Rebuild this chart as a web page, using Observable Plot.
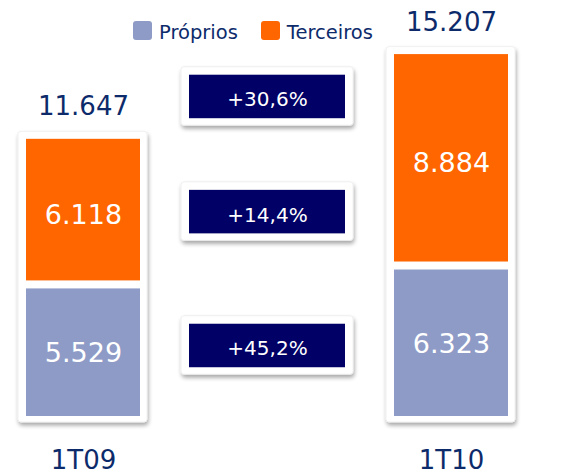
<!DOCTYPE html>
<html><head><meta charset="utf-8">
<script src="https://cdn.jsdelivr.net/npm/d3@7"></script>
<script src="https://cdn.jsdelivr.net/npm/@observablehq/plot@0.6"></script>
<style>
body{margin:0;background:#fff;font-family:"DejaVu Sans",sans-serif;}
#wrap{position:relative;width:562px;height:476px;}
#legend{position:absolute;left:133px;top:21px;display:flex;align-items:flex-start;font-size:19.5px;color:#0D2B6B;z-index:2;}
#legend .sw{width:19px;height:19px;border-radius:3px;display:inline-block;margin-right:7px;}
#legend .lab{line-height:normal;}
</style></head><body>
<div id="wrap"><div id="legend"></div></div>
<script>
const quarters = ["1T09", "1T10"];
const series = ["Próprios", "Terceiros"];
const proprios = [5529, 6323];
const terceiros = [6118, 8884];
const growthLabels = ["+30,6%", "+14,4%", "+45,2%"];
const colors = ["#8E9BC6", "#FF6600"];
const navy = "#0D2B6B";
const boxNavy = "#000066";

const fmt = d3.formatLocale({decimal: ",", thousands: ".", grouping: [3], currency: ["", ""]}).format(",d");

const totals = quarters.map((q, i) => proprios[i] + terceiros[i]);
const qRows = quarters.map((q, i) => ({quarter: q, total: totals[i]}));
const pRows = quarters.map((q, i) => ({quarter: q, series: series[0], value: proprios[i], y1: 0, y2: proprios[i]}));
const tRows = quarters.map((q, i) => ({quarter: q, series: series[1], value: terceiros[i], y1: proprios[i], y2: proprios[i] + terceiros[i]}));
const segRows = pRows.concat(tRows);

// growth box anchors derived from the data
const anchors = [d3.mean(totals), proprios[0] + terceiros[0] / 2, d3.mean(proprios) / 2];
const gRows = growthLabels.map((label, i) => ({key: "Δ", label, at: anchors[i]}));

const chart = Plot.plot({
  width: 562, height: 476,
  marginLeft: 0, marginRight: 28, marginTop: 0, marginBottom: 60,
  style: {fontFamily: "DejaVu Sans, sans-serif", background: "white", overflow: "visible"},
  x: {domain: [quarters[0], "Δ", quarters[1]], paddingInner: 0.378, paddingOuter: 0.1324, axis: null},
  y: {domain: [0, 17480], axis: null},
  color: {domain: series, range: colors},
  marks: [
    Plot.barY(qRows, {x: "quarter", y1: 0, y2: "total", fill: "white", stroke: "#ececec", strokeWidth: 0.8, insetTop: -7.5, insetBottom: -6, insetLeft: -8, insetRight: -7, rx: 3, ariaLabel: "frame"}),
    Plot.barY(gRows, {x: "key", y1: "at", y2: "at", fill: "white", stroke: "#ececec", strokeWidth: 0.8, insetTop: -29.75, insetBottom: -28.75, insetLeft: -29, insetRight: -29, rx: 3, ariaLabel: "frame"}),
    Plot.barY(pRows, {x: "quarter", y1: "y1", y2: "y2", fill: "series", insetTop: 4}),
    Plot.barY(tRows, {x: "quarter", y1: "y1", y2: "y2", fill: "series", insetBottom: 4}),
    Plot.barY(gRows, {x: "key", y1: "at", y2: "at", fill: boxNavy, insetTop: -21.75, insetBottom: -21.75, insetLeft: -21, insetRight: -21}),
    Plot.text(segRows, {x: "quarter", y: d => (d.y1 + d.y2) / 2, text: d => fmt(d.value), fill: "white", fontSize: 27, dy: 3}),
    Plot.text(gRows, {x: "key", y: "at", text: "label", fill: "white", fontSize: 20, dy: 3}),
    Plot.text(qRows, {x: "quarter", y: "total", text: d => fmt(d.total), fill: navy, fontSize: 26, lineAnchor: "bottom", dy: -24}),
    Plot.text(qRows, {x: "quarter", y: 0, text: "quarter", fill: navy, fontSize: 26, lineAnchor: "bottom", dy: 52})
  ]
});

// drop shadow for the white frames
const svgEl = chart.tagName.toLowerCase() === "svg" ? chart : chart.querySelector("svg");
const svg = d3.select(svgEl);
const defs = svg.insert("defs", ":first-child");
const f = defs.append("filter").attr("id", "frameShadow")
  .attr("filterUnits", "userSpaceOnUse").attr("x", 0).attr("y", 0).attr("width", 562).attr("height", 476);
f.append("feGaussianBlur").attr("in", "SourceAlpha").attr("stdDeviation", 2).attr("result", "blur");
f.append("feOffset").attr("in", "blur").attr("dx", 1).attr("dy", 3).attr("result", "off");
f.append("feComponentTransfer").attr("in", "off").attr("result", "shadow")
  .append("feFuncA").attr("type", "linear").attr("slope", 0.35);
const mg = f.append("feMerge");
mg.append("feMergeNode").attr("in", "shadow");
mg.append("feMergeNode").attr("in", "SourceGraphic");
const groups = Array.from(svgEl.children).filter(el => el.tagName.toLowerCase() === "g");
groups.slice(0, 2).forEach(g => g.querySelectorAll("rect").forEach(r => r.setAttribute("filter", "url(#frameShadow)")));

document.getElementById("wrap").appendChild(chart);

const legend = document.getElementById("legend");
series.forEach((s, i) => {
  const sw = document.createElement("span");
  sw.className = "sw";
  sw.style.background = colors[i];
  if (i > 0) sw.style.marginLeft = "23px";
  const lab = document.createElement("span");
  lab.className = "lab";
  lab.textContent = s;
  legend.appendChild(sw);
  legend.appendChild(lab);
});
</script>
</body></html>
